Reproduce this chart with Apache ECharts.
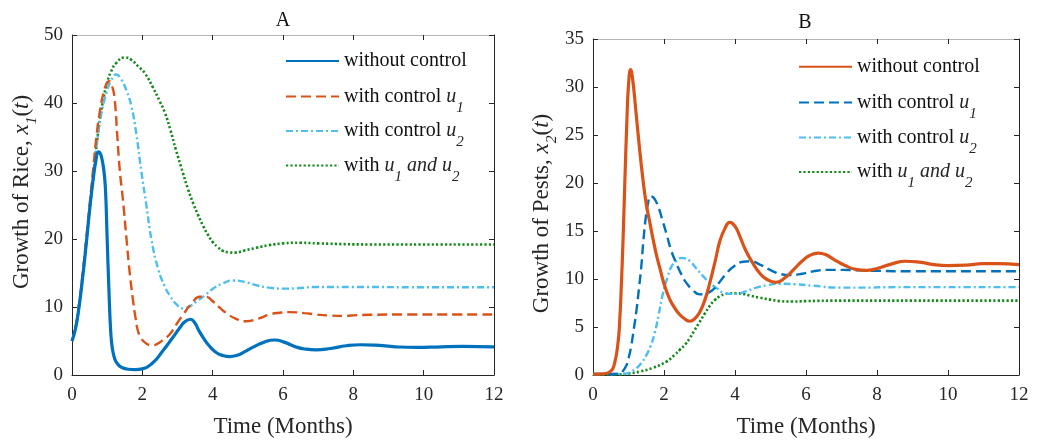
<!DOCTYPE html>
<html>
<head>
<meta charset="utf-8">
<script src="https://cdn.jsdelivr.net/npm/echarts@6/dist/echarts.min.js"></script>
<style>
  html, body { margin: 0; padding: 0; background: #fff; }
  #chart { width: 1042px; height: 445px; }
</style>
</head>
<body>
<div id="chart"></div>
<script>
// Time axis (months) and tick settings
const timeRange = [0, 12];
const timeStep = 2;
const riceRange = [0, 50];
const riceStep = 10;
const pestRange = [0, 35];
const pestStep = 5;

// Panel A: growth of rice x1(t), [time, value]
const riceWithout = [[0,5],[0.1,6.8],[0.2,10],[0.3,14.2],[0.4,19],[0.5,24.2],[0.6,28.7],[0.68,31.5],[0.75,32.8],[0.8,32.6],[0.85,31.8],[0.9,30.3],[0.95,27.5],[1.0,20],[1.05,12.5],[1.1,6.5],[1.15,3.8],[1.22,2.3],[1.3,1.6],[1.4,1.15],[1.6,0.85],[1.8,0.8],[2.0,0.9],[2.3,1.8],[2.59,3.6],[2.85,5.4],[3.06,6.9],[3.2,7.8],[3.37,8.2],[3.5,7.6],[3.6,6.6],[3.73,5.5],[3.9,4.3],[4.1,3.3],[4.3,2.85],[4.48,2.7],[4.7,2.9],[4.9,3.4],[5.15,4.1],[5.45,4.8],[5.76,5.15],[6.05,4.8],[6.38,4.1],[6.65,3.8],[6.95,3.7],[7.35,3.9],[7.8,4.3],[8.2,4.45],[8.6,4.4],[9.2,4.15],[9.8,4.05],[10.5,4.15],[11.1,4.2],[12,4.15]];
const riceU1 = [[0,5],[0.1,7],[0.2,10.3],[0.3,14.8],[0.4,19.8],[0.5,25],[0.6,30.2],[0.7,35.3],[0.8,39],[0.9,41.6],[1.0,43],[1.06,43.2],[1.14,42.5],[1.21,40.7],[1.29,35],[1.36,30],[1.45,25.7],[1.55,20],[1.64,15.1],[1.74,10.8],[1.81,8.3],[1.88,6.4],[1.97,5.4],[2.07,4.8],[2.2,4.4],[2.3,4.35],[2.4,4.5],[2.6,5.2],[2.78,6.0],[2.95,7.3],[3.16,8.9],[3.4,10.5],[3.63,11.5],[3.8,11.5],[4.01,10.8],[4.2,9.9],[4.39,9.1],[4.65,8.3],[4.96,7.9],[5.3,8.3],[5.62,8.9],[5.9,9.15],[6.19,9.25],[6.6,9.1],[6.95,8.9],[7.3,8.75],[7.71,8.7],[8.1,8.8],[8.46,8.85],[9.5,8.9],[12,8.9]];
const riceU2 = [[0,5],[0.1,7],[0.2,10.2],[0.3,14.5],[0.4,19.3],[0.5,24.3],[0.6,29.2],[0.7,33.8],[0.8,37.5],[0.9,40],[1.0,41.8],[1.1,43.2],[1.26,44.2],[1.4,43.5],[1.55,41.8],[1.69,39.5],[1.83,35.4],[1.97,30],[2.12,24.8],[2.26,19.9],[2.45,15.6],[2.64,13],[2.78,11.7],[2.95,10.5],[3.16,9.8],[3.35,10.1],[3.54,10.8],[3.8,11.8],[4.01,12.7],[4.3,13.5],[4.58,13.9],[4.9,13.7],[5.24,13.2],[5.6,12.85],[6.0,12.7],[6.4,12.75],[6.95,12.95],[8,12.95],[10,12.9],[12,12.9]];
const riceU1U2 = [[0,5],[0.1,7],[0.2,10.2],[0.3,14.4],[0.4,19.2],[0.5,24.2],[0.6,29],[0.7,33.8],[0.8,37.8],[0.9,40.8],[1.0,43],[1.1,44.5],[1.26,45.9],[1.5,46.7],[1.7,46.3],[1.9,45.3],[2.07,44.4],[2.3,42.3],[2.5,40.2],[2.64,38.6],[2.8,36],[2.95,33.2],[3.15,29.8],[3.3,27.3],[3.45,25.2],[3.58,23.6],[3.73,21.9],[3.88,20.5],[4.01,19.5],[4.15,18.8],[4.29,18.25],[4.45,18.05],[4.63,18.0],[4.9,18.3],[5.24,18.7],[5.6,19.1],[6.0,19.35],[6.5,19.45],[7.0,19.35],[8.5,19.2],[12,19.2]];

// Panel B: growth of pests x2(t), [time, value]
const pestWithout = [[0,0.1],[0.3,0.12],[0.5,0.4],[0.6,1.1],[0.7,3.2],[0.75,5.5],[0.8,9.5],[0.85,14.5],[0.9,20.5],[0.95,26],[1.0,30.2],[1.06,31.8],[1.12,30.7],[1.2,27.8],[1.3,24],[1.4,20.6],[1.5,17.8],[1.6,15.9],[1.7,14],[1.8,12.3],[1.9,10.9],[2.0,9.5],[2.16,7.9],[2.3,7.0],[2.44,6.3],[2.6,5.8],[2.72,5.6],[2.85,5.8],[3.0,6.5],[3.15,7.8],[3.29,9.6],[3.45,12.0],[3.57,13.9],[3.72,15.3],[3.85,15.9],[4.0,15.5],[4.13,14.5],[4.3,13.0],[4.51,11.6],[4.7,10.6],[4.88,10.0],[5.15,9.65],[5.4,10.1],[5.63,10.9],[5.9,11.9],[6.1,12.45],[6.34,12.7],[6.55,12.55],[6.8,12.0],[7.1,11.4],[7.4,11.0],[7.7,10.9],[8.0,11.1],[8.4,11.55],[8.8,11.85],[9.2,11.75],[9.6,11.5],[10.0,11.4],[10.5,11.45],[11.0,11.6],[11.4,11.6],[12,11.5]];
const pestU1 = [[0,0.1],[0.5,0.1],[0.75,0.15],[0.85,0.45],[0.94,1.0],[1.0,1.7],[1.08,3.1],[1.15,4.8],[1.22,6.6],[1.3,9.2],[1.36,11.3],[1.42,14.0],[1.48,16.2],[1.55,17.9],[1.62,18.6],[1.7,18.5],[1.83,17.6],[1.95,16.2],[2.07,14.7],[2.2,13.0],[2.35,11.6],[2.5,10.4],[2.63,9.6],[2.8,8.9],[3.0,8.4],[3.2,8.5],[3.38,8.9],[3.55,9.6],[3.76,10.6],[4.0,11.4],[4.23,11.8],[4.45,11.85],[4.7,11.5],[5.07,10.8],[5.3,10.5],[5.54,10.4],[5.9,10.55],[6.2,10.8],[6.6,10.95],[7.0,10.95],[7.5,10.9],[8.0,10.85],[9.0,10.8],[12,10.8]];
const pestU2 = [[0,0.1],[0.6,0.1],[0.94,0.15],[1.1,0.4],[1.22,0.7],[1.35,1.2],[1.5,2.05],[1.62,3.0],[1.74,4.4],[1.85,6.3],[1.97,8.5],[2.1,10.2],[2.21,11.3],[2.35,11.9],[2.5,12.2],[2.6,12.15],[2.75,11.8],[2.91,11.1],[3.1,10.3],[3.29,9.6],[3.5,9.0],[3.66,8.6],[3.85,8.45],[4.04,8.45],[4.3,8.7],[4.6,9.1],[4.9,9.35],[5.26,9.5],[5.7,9.45],[6.2,9.3],[6.95,9.1],[7.5,9.1],[8.5,9.15],[12,9.15]];
const pestU1U2 = [[0,0.05],[0.75,0.05],[1.0,0.15],[1.32,0.35],[1.69,0.75],[2.07,1.4],[2.3,2.1],[2.44,2.6],[2.6,3.2],[2.72,3.8],[2.85,4.6],[3.0,5.5],[3.15,6.4],[3.29,7.2],[3.43,7.8],[3.57,8.2],[3.7,8.4],[3.85,8.5],[4.05,8.5],[4.23,8.45],[4.45,8.25],[4.7,8.05],[5.0,7.85],[5.26,7.7],[5.6,7.65],[6.0,7.7],[7.0,7.75],[12,7.75]];

// Text
const panelTitles = ['A', 'B'];
const timeLabel = 'Time (Months)';
const riceLabel = 'Growth of Rice, {i|x}{s|1}({i|t})';
const pestLabel = 'Growth of Pests, {i|x}{s|2}({i|t})';
const legendLabels = ['without control', 'with control {i|u}{s|1}', 'with control {i|u}{s|2}', 'with {i|u}{s|1} {i|and} {i|u}{s|2}'];

const FONT = 'Liberation Serif';
const INK = '#262626';
const C_BLUE = '#0072BD', C_ORANGE = '#D95319', C_SKY = '#4DBEEE', C_GREEN = '#13891a';

const SOLID = { type: 'solid', width: 3.2 };
const DASHED = { type: [10, 5], width: 2.4 };
const DASHDOT = { type: [7, 3, 2, 3], width: 2.4 };
const DOTTED = { type: [2.2, 2.2], width: 2.6 };

const chart = echarts.init(document.getElementById('chart'), null, { renderer: 'canvas' });

const grids = [
  { left: 72, top: 35, width: 422, height: 346 },
  { left: 593, top: 39, width: 426, height: 341 }
];

function richSet(size, subSize, subPad, lh) {
  return {
    i: { fontFamily: FONT, fontSize: size, fontStyle: 'italic', color: INK, lineHeight: lh },
    s: { fontFamily: FONT, fontSize: subSize, fontStyle: 'italic', color: INK, lineHeight: lh, padding: [subPad, 0, 0, 0] }
  };
}

function xAxes(g) {
  return [
    { type: 'value', gridIndex: g, position: 'bottom', min: timeRange[0], max: timeRange[1], interval: timeStep,
      name: timeLabel, nameLocation: 'middle', nameGap: 39,
      nameTextStyle: { fontFamily: FONT, fontSize: 23, color: INK, lineHeight: 26 },
      axisLine: { onZero: false, lineStyle: { color: INK, width: 1 } },
      axisTick: { show: true, inside: true, length: 5, lineStyle: { color: INK } },
      axisLabel: { fontFamily: FONT, fontSize: 19, color: INK, margin: 11, lineHeight: 19 },
      splitLine: { show: false } },
    { type: 'value', gridIndex: g, position: 'top', min: timeRange[0], max: timeRange[1], interval: timeStep,
      axisLine: { onZero: false, lineStyle: { color: '#b4b4b4', width: 1 } },
      axisTick: { show: true, inside: true, length: 5, lineStyle: { color: INK } },
      axisLabel: { show: false }, splitLine: { show: false } }
  ];
}

function yAxes(g, range, step, label, gap, pad) {
  return [
    { type: 'value', gridIndex: g, position: 'left', min: range[0], max: range[1], interval: step,
      name: label, nameLocation: 'middle', nameGap: gap,
      nameTextStyle: { fontFamily: FONT, fontSize: 23, color: INK, lineHeight: 26, padding: pad,
        rich: richSet(23, 15.5, 20, 26) },
      axisLine: { onZero: false, lineStyle: { color: INK, width: 1 } },
      axisTick: { show: true, inside: true, length: 5, lineStyle: { color: INK } },
      axisLabel: { fontFamily: FONT, fontSize: 19, color: INK, margin: 9 },
      splitLine: { show: false } },
    { type: 'value', gridIndex: g, position: 'right', min: range[0], max: range[1], interval: step,
      axisLine: { onZero: false, lineStyle: { color: INK, width: 1 } },
      axisTick: { show: true, inside: true, length: 5, lineStyle: { color: INK } },
      axisLabel: { show: false }, splitLine: { show: false } }
  ];
}

function curve(id, data, color, style, axisBase) {
  return {
    name: id, type: 'line', data: data,
    xAxisIndex: axisBase, yAxisIndex: axisBase,
    showSymbol: false, symbol: 'none', smooth: 0.5,
    lineStyle: Object.assign({ color: color, cap: 'butt' }, style),
    itemStyle: { color: color },
    emphasis: { disabled: true }
  };
}

const riceIds = ['rice-none', 'rice-u1', 'rice-u2', 'rice-u1u2'];
const pestIds = ['pest-none', 'pest-u1', 'pest-u2', 'pest-u1u2'];

const series = [
  curve(riceIds[0], riceWithout, C_BLUE, SOLID, 0),
  curve(riceIds[1], riceU1, C_ORANGE, DASHED, 0),
  curve(riceIds[2], riceU2, C_SKY, DASHDOT, 0),
  curve(riceIds[3], riceU1U2, C_GREEN, DOTTED, 0),
  curve(pestIds[0], pestWithout, C_ORANGE, SOLID, 2),
  curve(pestIds[1], pestU1, C_BLUE, DASHED, 2),
  curve(pestIds[2], pestU2, C_SKY, DASHDOT, 2),
  curve(pestIds[3], pestU1U2, C_GREEN, DOTTED, 2)
];

// draw order: green, sky, dashed, then the solid curve on top
const drawOrder = [3, 2, 1, 0, 7, 6, 5, 4];

const legendRowsA = [49, 77.5, 112, 146.5];
const legendRowsB = [54.7, 83.5, 118.5, 153];

function legendItem(id, idx, left, top) {
  return {
    data: [id], left: left, top: top, orient: 'vertical', padding: 0,
    itemWidth: 53, itemHeight: 14, selectedMode: false,
    itemStyle: { opacity: 0, borderWidth: 0 },
    formatter: () => legendLabels[idx],
    textStyle: { fontFamily: FONT, fontSize: 20, color: '#111', lineHeight: 24,
      rich: richSet(20, 15, 23, 24) }
  };
}

const legends = [];
riceIds.forEach((id, k) => legends.push(legendItem(id, k, 285, legendRowsA[k])));
pestIds.forEach((id, k) => legends.push(legendItem(id, k, 798, legendRowsB[k])));

chart.setOption({
  animation: false,
  backgroundColor: '#ffffff',
  title: [
    { text: panelTitles[0], left: 283, top: 10.6, textAlign: 'center', padding: 0,
      textStyle: { fontFamily: FONT, fontSize: 20, fontWeight: 'normal', color: '#111', lineHeight: 20 } },
    { text: panelTitles[1], left: 805, top: 13.2, textAlign: 'center', padding: 0,
      textStyle: { fontFamily: FONT, fontSize: 20, fontWeight: 'normal', color: '#111', lineHeight: 20 } }
  ],
  grid: grids,
  xAxis: xAxes(0).concat(xAxes(1)),
  yAxis: yAxes(0, riceRange, riceStep, riceLabel, 36, [0, 0, 0, 26])
    .concat(yAxes(1, pestRange, pestStep, pestLabel, 38, [0, 13, 0, 0])),
  legend: legends,
  series: drawOrder.map(k => series[k])
});
</script>
</body>
</html>
